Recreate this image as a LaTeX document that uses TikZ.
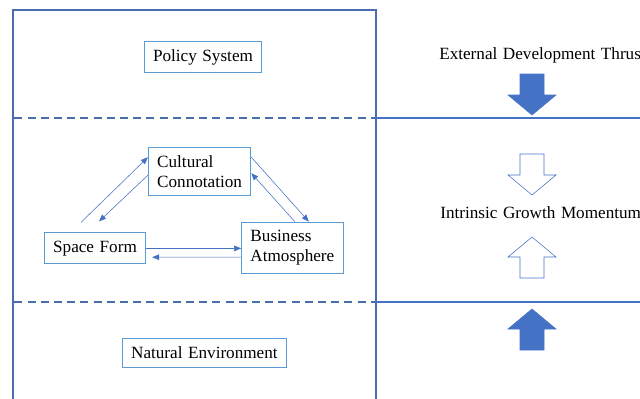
\documentclass[tikz,border=0pt]{standalone}
\usepackage{fontspec}
\setmainfont[WordSpace=1.3]{Liberation Serif}
\usetikzlibrary{arrows.meta}
\definecolor{frameblue}{HTML}{4A6DB0}
\definecolor{boxblue}{HTML}{5B9BD5}
\definecolor{linkblue}{HTML}{4472C4}
\tikzset{
    every node/.style={font=\fontsize{12.2}{14.2}\selectfont},
    factor/.style={draw=boxblue, line width=0.7pt, inner xsep=0.22cm,
        inner ysep=0.2cm, align=left},
    link/.style={draw=linkblue, line width=0.4pt,
        -{Triangle[length=5pt,width=4pt]}},
    zone/.style={draw=frameblue, line width=1pt},
    split/.style={zone, dash pattern=on 0.2cm off 0.13cm},
    level/.style={draw=linkblue, line width=0.8pt},
    thrust/.pic={
        \path[pic actions] (0,0) -- (-0.6,0.5) -- (-0.3,0.5) -- (-0.3,1.025)
            -- (0.3,1.025) -- (0.3,0.5) -- (0.6,0.5) -- cycle;
    }
}

\begin{document}
\begin{tikzpicture}
  \useasboundingbox (0,0) rectangle (16,9.95);

  % frame and levels
  \draw[zone] (0.325,-0.5) -- (0.325,9.7) -- (9.4,9.7) -- (9.4,-0.5);
  \draw[split] (0.36,7.0) -- (9.4,7.0);
  \draw[split] (0.36,2.4) -- (9.4,2.4);
  \draw[level] (9.4,7.0) -- (16.5,7.0);
  \draw[level] (9.4,2.4) -- (16.5,2.4);

  % factors
  \node[factor] (policy) at (5.075,8.525) {Policy System};
  \node[factor] (culture) at (4.99,5.66) {Cultural\\Connotation};
  \node[factor] (space) at (2.375,3.74) {Space Form};
  \node[factor] (business) at (7.31,3.76) {Business\\Atmosphere};
  \node[factor] (nature) at (5.11,1.125) {Natural Environment};

  % forces
  \node[anchor=west, inner sep=0] (external) at (10.975,8.575)
    {External Development Thrust};
  \node[anchor=west, inner sep=0] (intrinsic) at (11.0,4.625)
    {Intrinsic Growth Momentum};
  \pic[fill=linkblue, draw=linkblue] at (13.3,7.075) {thrust};
  \pic[fill=white, draw=linkblue] at (13.3,5.075) {thrust};
  \pic[fill=white, draw=linkblue, rotate=180] at (13.3,4.025) {thrust};
  \pic[fill=linkblue, draw=linkblue, rotate=180] at (13.3,2.225) {thrust};

  % interactions
  \draw[link] ([xshift=-0.35cm, yshift=0.25cm]space.north)
    -- ([yshift=0.36cm]culture.west);
  \draw[link] ([yshift=-0.09cm]culture.west)
    -- ([xshift=0.1cm, yshift=0.275cm]space.north);
  \draw[link] ([yshift=0.36cm]culture.east)
    -- ([xshift=0.41cm]business.north);
  \draw[link] ([xshift=0.06cm]business.north)
    -- ([yshift=-0.04cm]culture.east);
  \draw[link] (space.east) -- (space.east -| business.west);
  \draw[link] ([yshift=-0.24cm]business.west)
    -- ([xshift=0.15cm, yshift=-0.22cm]space.east);
\end{tikzpicture}
\end{document}
